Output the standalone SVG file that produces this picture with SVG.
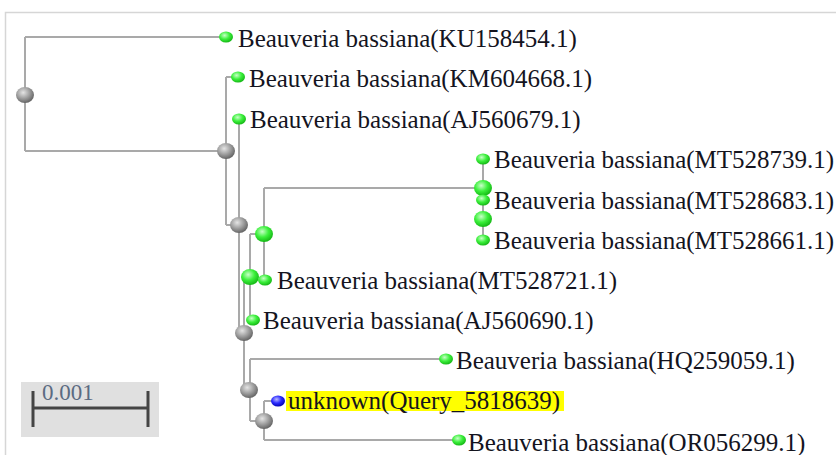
<svg xmlns="http://www.w3.org/2000/svg" width="836" height="455" viewBox="0 0 836 455">
  <style>
    .edge { fill: none; stroke: #a9a9a9; stroke-width: 2; }
    .lbl { font-family: "Liberation Serif", "Times New Roman", serif; font-size: 25px; fill: #14141e; }
    .scale-lbl { font-family: "Liberation Serif", "Times New Roman", serif; font-size: 23px; fill: #5b6b82; }
    .inner { fill: url(#gInner); }
    .clade { fill: url(#gGreen); }
  </style>
  <defs>
    <radialGradient id="gInner" cx="0.4" cy="0.35" r="0.7">
      <stop offset="0" stop-color="#e4e4e4"/>
      <stop offset="0.55" stop-color="#9a9a9a"/>
      <stop offset="1" stop-color="#5c5c5c"/>
    </radialGradient>
    <radialGradient id="gGreen" cx="0.4" cy="0.35" r="0.7">
      <stop offset="0" stop-color="#c8ffc8"/>
      <stop offset="0.5" stop-color="#3cf03c"/>
      <stop offset="1" stop-color="#10b010"/>
    </radialGradient>
    <radialGradient id="gBlue" cx="0.4" cy="0.35" r="0.7">
      <stop offset="0" stop-color="#b8b8ff"/>
      <stop offset="0.5" stop-color="#2a2aff"/>
      <stop offset="1" stop-color="#0000a8"/>
    </radialGradient>
  </defs>

  <rect x="0" y="0" width="836" height="455" fill="#ffffff"/>
  <!-- panel frame -->
  <path d="M5.5,455 V12.5 H836" fill="none" stroke="#d6d6d6" stroke-width="1.5"/>

  <!-- scale bar -->
  <g id="scale-bar">
    <rect x="21" y="382" width="138" height="55" fill="#e0e0e0"/>
    <path d="M33,391 V427 M148,391 V427 M33,408 H148" fill="none" stroke="#444" stroke-width="3"/>
    <text class="scale-lbl" x="42" y="400">0.001</text>
  </g>

  <!-- branches -->
  <g id="connectors">
    <path class="edge" d="M25,37 V151 M25,37 H226 M25,151 H226"/>
    <path class="edge" d="M226,77 V225 M226,77 H238 M226,225 H239"/>
    <path class="edge" d="M239,119 V333 H244"/>
    <path class="edge" d="M244,277 V390 M244,277 H250 M244,390 H250"/>
    <path class="edge" d="M250,234 V320 M250,234 H264 M250,320 H253"/>
    <path class="edge" d="M264,188 V280 M264,188 H483"/>
    <path class="edge" d="M483,159 V240"/>
    <path class="edge" d="M250,359 V421 M250,359 H446 M250,421 H264"/>
    <path class="edge" d="M264,401 V440 M264,401 H278 M264,440 H459"/>
  </g>

  <!-- internal nodes -->
  <g id="node-root"><ellipse class="inner" cx="25" cy="95" rx="9" ry="8"/></g>
  <g id="node-a"><ellipse class="inner" cx="226" cy="151" rx="9" ry="8"/></g>
  <g id="node-b"><ellipse class="inner" cx="239" cy="225" rx="9" ry="8"/></g>
  <g id="node-c"><ellipse class="inner" cx="244" cy="333" rx="9" ry="8"/></g>
  <g id="node-e"><ellipse class="inner" cx="249" cy="390" rx="9" ry="8"/></g>
  <g id="node-f"><ellipse class="inner" cx="264" cy="421" rx="9" ry="8"/></g>
  <g id="node-g"><ellipse class="clade" cx="250" cy="277" rx="9" ry="8"/></g>
  <g id="node-h"><ellipse class="clade" cx="264" cy="234" rx="9" ry="8"/></g>
  <g id="node-i"><ellipse class="clade" cx="483" cy="188" rx="9" ry="8"/></g>
  <g id="node-j"><ellipse class="clade" cx="483" cy="219" rx="9" ry="8"/></g>

  <!-- leaves -->
  <g id="leaf-KU158454">
    <ellipse class="clade" cx="226" cy="37" rx="7" ry="5.5"/>
    <text class="lbl" x="238" y="47">Beauveria bassiana(KU158454.1)</text>
  </g>
  <g id="leaf-KM604668">
    <ellipse class="clade" cx="238" cy="77" rx="7" ry="5.5"/>
    <text class="lbl" x="249" y="87">Beauveria bassiana(KM604668.1)</text>
  </g>
  <g id="leaf-AJ560679">
    <ellipse class="clade" cx="239" cy="119" rx="7" ry="5.5"/>
    <text class="lbl" x="250" y="128">Beauveria bassiana(AJ560679.1)</text>
  </g>
  <g id="leaf-MT528739">
    <ellipse class="clade" cx="483" cy="159" rx="7" ry="5.5"/>
    <text class="lbl" x="494" y="168">Beauveria bassiana(MT528739.1)</text>
  </g>
  <g id="leaf-MT528683">
    <ellipse class="clade" cx="483" cy="200" rx="7" ry="5.5"/>
    <text class="lbl" x="494" y="209">Beauveria bassiana(MT528683.1)</text>
  </g>
  <g id="leaf-MT528661">
    <ellipse class="clade" cx="483" cy="240" rx="7" ry="5.5"/>
    <text class="lbl" x="494" y="249">Beauveria bassiana(MT528661.1)</text>
  </g>
  <g id="leaf-MT528721">
    <ellipse class="clade" cx="265" cy="280" rx="7" ry="5.5"/>
    <text class="lbl" x="277" y="289">Beauveria bassiana(MT528721.1)</text>
  </g>
  <g id="leaf-AJ560690">
    <ellipse class="clade" cx="253" cy="320" rx="7" ry="5.5"/>
    <text class="lbl" x="263" y="329">Beauveria bassiana(AJ560690.1)</text>
  </g>
  <g id="leaf-HQ259059">
    <ellipse class="clade" cx="446" cy="359" rx="7" ry="5.5"/>
    <text class="lbl" x="456" y="369">Beauveria bassiana(HQ259059.1)</text>
  </g>
  <g id="leaf-query">
    <rect x="286" y="391" width="278" height="20" fill="#ffff00"/>
    <ellipse cx="278" cy="401" rx="7" ry="5.5" fill="url(#gBlue)"/>
    <text class="lbl" x="288" y="409">unknown(Query_5818639)</text>
  </g>
  <g id="leaf-OR056299">
    <ellipse class="clade" cx="459" cy="440" rx="7" ry="5.5"/>
    <text class="lbl" x="468" y="451">Beauveria bassiana(OR056299.1)</text>
  </g>
</svg>
